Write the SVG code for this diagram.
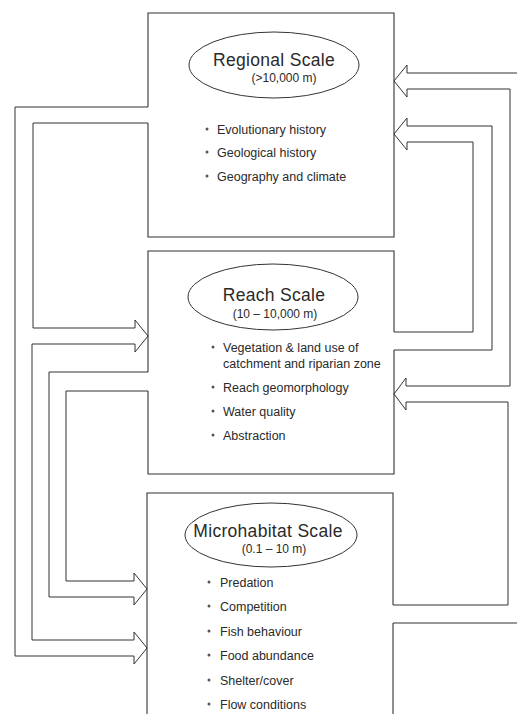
<svg xmlns="http://www.w3.org/2000/svg" width="517" height="714" viewBox="0 0 517 714">
  <style>
    .frame { fill: none; stroke: #333333; stroke-width: 1.1; }
    .pipe { fill: none; stroke: #333333; stroke-width: 1; stroke-linejoin: miter; }
    .oval { fill: none; stroke: #333333; stroke-width: 1; }
    .title { font-family: "Liberation Sans", Arial, sans-serif; font-size: 17.5px; fill: #2a2a2a; text-anchor: middle; letter-spacing: 0.3px; }
    .range { font-family: "Liberation Sans", Arial, sans-serif; font-size: 12px; fill: #2a2a2a; text-anchor: middle; }
    .item { font-family: "Liberation Sans", Arial, sans-serif; font-size: 12.5px; fill: #2a2a2a; }
    .dot { fill: #555; }
  </style>
  <rect width="517" height="714" fill="#ffffff"/>

  <!-- Regional scale box (opening on the left side) -->
  <g id="regional">
    <path class="frame" d="M148,107 V13 H394 V237 H148 V123"/>
    <ellipse class="oval" cx="274" cy="65" rx="85" ry="33"/>
    <text class="title" x="274" y="66">Regional Scale</text>
    <text class="range" x="284" y="82">(&gt;10,000 m)</text>
    <circle class="dot" cx="207" cy="129" r="1.5"/>
    <text class="item" x="217" y="133.5">Evolutionary history</text>
    <circle class="dot" cx="207" cy="152" r="1.5"/>
    <text class="item" x="217" y="156.5">Geological history</text>
    <circle class="dot" cx="207" cy="176" r="1.5"/>
    <text class="item" x="217" y="180.5">Geography and climate</text>
  </g>

  <!-- Reach scale box (openings left and right) -->
  <g id="reach">
    <path class="frame" d="M394,332 V251 H148 V372 M148,391 V474 H394 V350"/>
    <ellipse class="oval" cx="273" cy="297" rx="85" ry="33"/>
    <text class="title" x="274" y="301">Reach Scale</text>
    <text class="range" x="275" y="318">(10 – 10,000 m)</text>
    <circle class="dot" cx="213" cy="347" r="1.5"/>
    <text class="item" x="223" y="351.5">Vegetation &amp; land use of</text>
    <text class="item" x="223" y="367.5">catchment and riparian zone</text>
    <circle class="dot" cx="213" cy="387" r="1.5"/>
    <text class="item" x="223" y="391.5">Reach geomorphology</text>
    <circle class="dot" cx="213" cy="411" r="1.5"/>
    <text class="item" x="223" y="415.5">Water quality</text>
    <circle class="dot" cx="213" cy="435" r="1.5"/>
    <text class="item" x="223" y="439.5">Abstraction</text>
  </g>

  <!-- Microhabitat scale box (opening on the right side, runs off the bottom) -->
  <g id="microhabitat">
    <path class="frame" d="M393,605 V493 H147 V720 M393,623 V720"/>
    <ellipse class="oval" cx="271" cy="535" rx="86" ry="32"/>
    <text class="title" x="268" y="537">Microhabitat Scale</text>
    <text class="range" x="274" y="553">(0.1 – 10 m)</text>
    <circle class="dot" cx="209" cy="582" r="1.5"/>
    <text class="item" x="220" y="586.5">Predation</text>
    <circle class="dot" cx="209" cy="606" r="1.5"/>
    <text class="item" x="220" y="610.5">Competition</text>
    <circle class="dot" cx="209" cy="631" r="1.5"/>
    <text class="item" x="220" y="635.5">Fish behaviour</text>
    <circle class="dot" cx="209" cy="655" r="1.5"/>
    <text class="item" x="220" y="659.5">Food abundance</text>
    <circle class="dot" cx="209" cy="680" r="1.5"/>
    <text class="item" x="220" y="684.5">Shelter/cover</text>
    <circle class="dot" cx="209" cy="704" r="1.5"/>
    <text class="item" x="220" y="708.5">Flow conditions</text>
  </g>

  <!-- Hollow double-line connectors ending in open arrowheads -->
  <g id="connectors">
    <!-- regional -> reach and microhabitat (left side) -->
    <path class="pipe" d="M148,107 H15 V656 H134 V664 L147,648 L134,632 V640 H32 V344 H135 V352 L148,336 L135,320 V328 H33 V123 H148"/>
    <!-- reach -> microhabitat (left side) -->
    <path class="pipe" d="M148,372 H49 V597 H134 V605 L147,589 L134,573 V581 H66 V391 H148"/>
    <!-- microhabitat -> reach and regional (right side) -->
    <path class="pipe" d="M393,623 H522 V73 H407 V65 L394,81 L407,97 V89 H510 V386 H406 V378 L394,394 L406,410 V402 H508 V605 H393"/>
    <!-- reach -> regional (right side) -->
    <path class="pipe" d="M394,350 H492 V126 H407 V118 L394,134 L407,150 V142 H473 V332 H394"/>
  </g>
</svg>
